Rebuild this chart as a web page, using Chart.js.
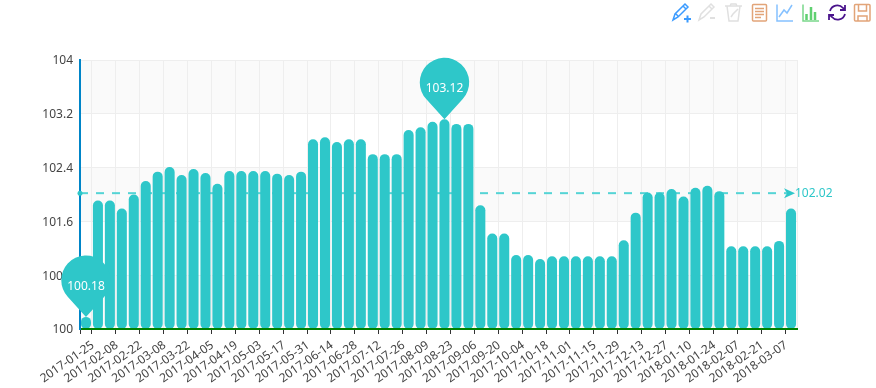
<!DOCTYPE html>
<html>
<head>
<meta charset="utf-8">
<style>
  body { margin: 0; background: #fff; }
  #wrap { position: relative; width: 876px; height: 388px; }
  #tools { position: absolute; left: 0; top: 0; }
</style>
<script src="https://cdn.jsdelivr.net/npm/chart.js@4"></script>
</head>
<body>
<div id="wrap">
  <canvas id="myChart" width="876" height="388"></canvas>
  <!-- toolbox icons top right -->
  <svg id="tools" width="876" height="30" fill="none" stroke-width="1.5">
    <g stroke="#3b9bff">
      <path d="M673 20l2-6 10-10 3 3-10 10z M683 6l3 3 M676 14l3 3"/>
      <path d="M684 19h7 M687.500 15.500v7" stroke-width="2"/>
    </g>
    <g stroke="#e0e0e0">
      <path d="M699 20l2-6 10-10 3 3-10 10z M709 6l3 3"/>
      <path d="M710 18h5" stroke-width="2"/>
      <path d="M725 6h17 M730 6l1-2h5l1 2 M727 6l2 15h9l2-15 M731 17l2-3 5-5"/>
    </g>
    <g stroke="#e2a478">
      <rect x="752.500" y="4.500" width="14" height="16.500" rx="1"/>
      <path d="M755 8.500h9 M755 11.500h9 M755 14.500h9 M755 17.500h6"/>
    </g>
    <path d="M777 4.500v16.500h16 M779 17l5-7 3 3 5-8" stroke="#85c1ff"/>
    <path d="M803 4.500v16.500h16" stroke="#7ad88a"/>
    <path d="M806.500 20v-6 M811 20v-13 M815 20v-8" stroke="#5fd070" stroke-width="2.500"/>
    <path d="M830 11a7.500 7.500 0 0 1 13-3l2 2 M845 14a7.500 7.500 0 0 1-13 3l-2-2 M845 5v5h-5 M829 20v-5h5" stroke="#4a148c" stroke-width="1.800"/>
    <g stroke="#e2a478">
      <rect x="854.500" y="4.500" width="15.500" height="16.500" rx="1"/>
      <path d="M858.500 5v6h8v-6 M858 21v-5h9v5"/>
    </g>
  </svg>
</div>
<script>
const categories = [
  "2017-01-25", "2017-02-01", "2017-02-08", "2017-02-15", "2017-02-22", "2017-03-01",
  "2017-03-08", "2017-03-15", "2017-03-22", "2017-03-29", "2017-04-05", "2017-04-12",
  "2017-04-19", "2017-04-26", "2017-05-03", "2017-05-10", "2017-05-17", "2017-05-24",
  "2017-05-31", "2017-06-07", "2017-06-14", "2017-06-21", "2017-06-28", "2017-07-05",
  "2017-07-12", "2017-07-19", "2017-07-26", "2017-08-02", "2017-08-09", "2017-08-16",
  "2017-08-23", "2017-08-30", "2017-09-06", "2017-09-13", "2017-09-20", "2017-09-27",
  "2017-10-04", "2017-10-11", "2017-10-18", "2017-10-25", "2017-11-01", "2017-11-08",
  "2017-11-15", "2017-11-22", "2017-11-29", "2017-12-06", "2017-12-13", "2017-12-20",
  "2017-12-27", "2018-01-03", "2018-01-10", "2018-01-17", "2018-01-24", "2018-01-31",
  "2018-02-07", "2018-02-14", "2018-02-21", "2018-02-28", "2018-03-07", "2018-03-14",
];
const values = [
  100.18, 101.91, 101.91, 101.79, 102.0, 102.2, 102.34, 102.41, 102.29, 102.38,
  102.32, 102.16, 102.35, 102.35, 102.35, 102.35, 102.31, 102.29, 102.34, 102.82,
  102.85, 102.78, 102.82, 102.82, 102.6, 102.6, 102.6, 102.96, 103.0, 103.08,
  103.12, 103.05, 103.05, 101.84, 101.42, 101.42, 101.1, 101.1, 101.04, 101.08,
  101.08, 101.08, 101.08, 101.08, 101.08, 101.32, 101.73, 102.03, 102.03, 102.08,
  101.97, 102.1, 102.13, 102.05, 101.23, 101.23, 101.23, 101.23, 101.31, 101.79,
];
const yMin = 100;
const yMax = 104;
const yStep = 0.8;
const pins = [
  { index: 0, value: 100.18 },
  { index: 30, value: 103.12 },
];
const averageValue = 102.02;

const teal = "#2ec7c9";
const fontName = "'Noto Sans', sans-serif";

// alternating bands behind the bars, top one is grey
const splitAreaPlugin = {
  id: "splitArea",
  beforeDraw(chart) {
    const { ctx, chartArea, scales } = chart;
    const ticks = scales.y.ticks;
    ctx.save();
    ctx.fillStyle = "#fafafa";
    for (let i = ticks.length - 1; i > 0; i -= 2) {
      const top = scales.y.getPixelForValue(ticks[i].value);
      const bottom = scales.y.getPixelForValue(ticks[i - 1].value);
      ctx.fillRect(chartArea.left, top, chartArea.width, bottom - top);
    }
    ctx.restore();
  },
};

// the dashes go under the bars, dot arrow and label go on top
function drawAverageLine(chart) {
  const { ctx, chartArea, scales } = chart;
  const y = scales.y.getPixelForValue(averageValue);
  ctx.save();
  ctx.strokeStyle = "#55d4d5";
  ctx.lineWidth = 2;
  ctx.setLineDash([8, 8]);
  ctx.beginPath();
  ctx.moveTo(chartArea.left, y);
  ctx.lineTo(chartArea.right - 8, y);
  ctx.stroke();
  ctx.restore();
}

function drawAverageEnds(chart) {
  const { ctx, chartArea, scales } = chart;
  const y = scales.y.getPixelForValue(averageValue);
  const end = chartArea.right;
  ctx.save();
  ctx.fillStyle = teal;
  ctx.beginPath();
  ctx.arc(chartArea.left, y, 2.5, 0, Math.PI * 2);
  ctx.fill();
  ctx.beginPath();
  ctx.moveTo(end - 13, y - 5);
  ctx.lineTo(end - 2, y);
  ctx.lineTo(end - 13, y + 5);
  ctx.lineTo(end - 10, y);
  ctx.closePath();
  ctx.fill();
  ctx.font = "12px " + fontName;
  ctx.textAlign = "left";
  ctx.textBaseline = "middle";
  ctx.fillText(String(averageValue), end - 2, y);
  ctx.restore();
}

function drawPin(chart, pin) {
  const { ctx, scales } = chart;
  const x = scales.x.getPixelForValue(pin.index);
  const tip = scales.y.getPixelForValue(pin.value);
  const r = 24.7;
  const d = 36.7;
  const cy = tip - d;
  const spread = Math.acos(r / d);
  ctx.save();
  ctx.fillStyle = teal;
  ctx.beginPath();
  ctx.moveTo(x, tip);
  ctx.arc(x, cy, r, Math.PI / 2 - spread, Math.PI / 2 + spread, true);
  ctx.closePath();
  ctx.fill();
  ctx.fillStyle = "#fff";
  ctx.font = "12px " + fontName;
  ctx.textAlign = "center";
  ctx.textBaseline = "middle";
  ctx.fillText(String(pin.value), x, cy + 6);
  ctx.restore();
}

const markPlugin = {
  id: "marks",
  beforeDatasetsDraw(chart) {
    drawAverageLine(chart);
  },
  afterDraw(chart) {
    drawAverageEnds(chart);
    pins.forEach((pin) => drawPin(chart, pin));
  },
};

new Chart(document.getElementById("myChart"), {
  type: "bar",
  data: {
    labels: categories,
    datasets: [
      {
        // [start, end] pairs, otherwise the corners on the base stay square
        data: values.map((v) => [yMin, v]),
        backgroundColor: teal,
        borderRadius: 5,
        borderSkipped: false,
        barPercentage: 0.84,
        categoryPercentage: 1,
      },
    ],
  },
  options: {
    responsive: false,
    animation: false,
    layout: { padding: { top: 60, right: 79 } },
    plugins: { legend: { display: false }, tooltip: { enabled: false } },
    font: { family: fontName },
    scales: {
      x: {
        offset: true,
        afterFit(scale) {
          scale.height = 59;
        },
        border: { color: "#008000", width: 2, z: 1 },
        grid: {
          offset: true,
          tickLength: 5,
          color(c) {
            const show = c.index === undefined || c.index === categories.length || c.index % 2 === 1;
            return show ? "#eeeeee" : "rgba(0,0,0,0)";
          },
          tickColor(c) {
            const show = c.index === 0 || c.index % 2 === 1;
            return show ? "#333333" : "rgba(0,0,0,0)";
          },
        },
        ticks: {
          autoSkip: false,
          minRotation: 35,
          maxRotation: 35,
          padding: 4,
          labelOffset: 7,
          color: "#444444",
          font: { family: fontName, size: 12 },
          callback(value, index) {
            return index % 2 === 0 ? categories[index] : "";
          },
        },
      },
      y: {
        min: yMin,
        max: yMax,
        afterFit(scale) {
          scale.width = 80;
        },
        border: { color: "#0085c8", width: 2, z: 1 },
        grid: { color: "#eeeeee", drawTicks: false },
        ticks: {
          stepSize: yStep,
          padding: 7,
          labelOffset: 1,
          color: "#444444",
          font: { family: fontName, size: 12 },
          callback(value) {
            return String(Number(value.toFixed(1)));
          },
        },
      },
    },
  },
  plugins: [splitAreaPlugin, markPlugin],
});
</script>
</body>
</html>
